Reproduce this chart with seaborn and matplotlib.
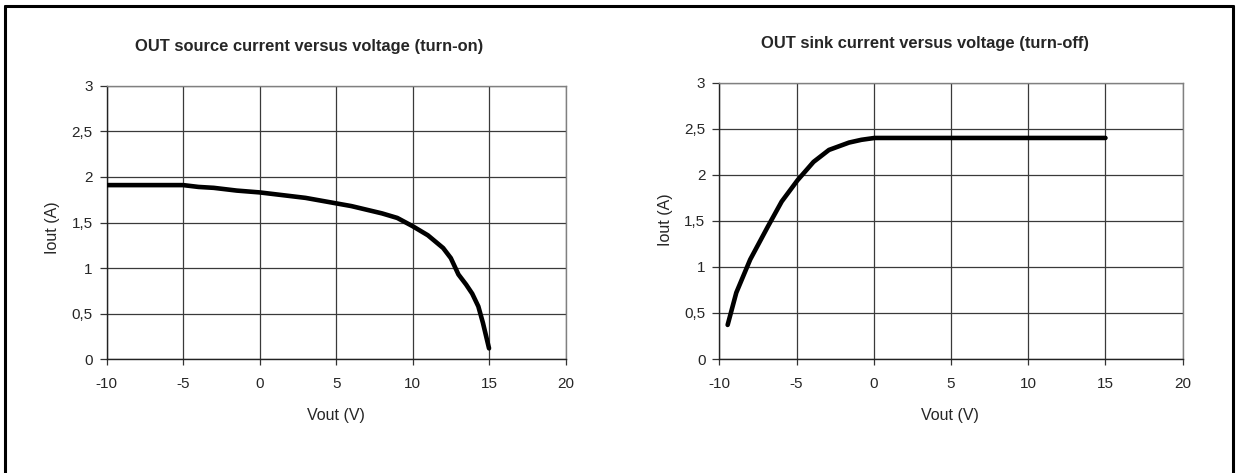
import numpy as np
import pandas as pd
import seaborn as sns
import matplotlib.pyplot as plt
from matplotlib.lines import Line2D

# source current (turn-on)
vout_on = [-10, -5, -4, -3, -2, -1.5, 0, 1, 2, 3, 4, 5, 6, 7, 8, 9, 10, 11, 12, 12.5, 13, 13.5, 13.9, 14.3, 14.6, 15]
iout_on = [1.91, 1.91, 1.89, 1.88, 1.86, 1.85, 1.83, 1.81, 1.79, 1.77, 1.74, 1.71, 1.68, 1.64, 1.60, 1.55, 1.46, 1.36, 1.22, 1.11, 0.93, 0.82, 0.72, 0.58, 0.40, 0.12]

# sink current (turn-off)
vout_off = [-9.46, -8.9, -8.0, -6.85, -5.96, -4.94, -3.9, -2.9, -1.6, -0.8, 0.05, 5, 10, 15]
iout_off = [0.37, 0.72, 1.08, 1.44, 1.71, 1.94, 2.14, 2.27, 2.35, 2.38, 2.40, 2.40, 2.40, 2.40]

x_ticks = [-10, -5, 0, 5, 10, 15, 20]
y_ticks = [0, 0.5, 1, 1.5, 2, 2.5, 3]
y_labels = ['0', '0,5', '1', '1,5', '2', '2,5', '3']

titles = ['OUT source current versus voltage (turn-on)',
          'OUT sink current versus voltage (turn-off)']

sns.set_style('white')
plt.rcParams['font.family'] = ['Liberation Sans', 'DejaVu Sans']

fig = plt.figure(figsize=(12.39, 4.73), dpi=100)
W, H = 1239, 473

def px_axes(x0, x1, ytop, ybot):
    return fig.add_axes([x0 / W, 1 - ybot / H, (x1 - x0) / W, (ybot - ytop) / H])

ax1 = px_axes(106.7, 565.5, 85.7, 359.3)
ax2 = px_axes(719.3, 1182.7, 82.7, 359.0)

df_on = pd.DataFrame({'Vout': vout_on, 'Iout': iout_on})
df_off = pd.DataFrame({'Vout': vout_off, 'Iout': iout_off})

for ax, df in [(ax1, df_on), (ax2, df_off)]:
    sns.lineplot(data=df, x='Vout', y='Iout', ax=ax, color='black', linewidth=3.3,
                 sort=False, zorder=5)
    ax.set_xlim(-10, 20)
    ax.set_ylim(0, 3)
    ax.set_xticks(x_ticks)
    ax.set_xticklabels([str(t) for t in x_ticks])
    ax.set_yticks(y_ticks)
    ax.set_yticklabels(y_labels)
    ax.grid(True, color='#3a3a3a', linewidth=0.9)
    for s in ['top', 'right']:
        ax.spines[s].set_color('#808080')
        ax.spines[s].set_linewidth(1.0)
    for s in ['left', 'bottom']:
        ax.spines[s].set_color('#222222')
        ax.spines[s].set_linewidth(1.0)
    ax.tick_params(axis='y', direction='out', length=5, width=0.9, color='#333333',
                   labelsize=11, pad=5, left=True)
    ax.tick_params(axis='x', direction='out', length=4, width=0.9, color='#333333',
                   labelsize=11, pad=9, bottom=True)
    ax.set_xlabel('')
    ax.set_ylabel('')

fig.text(309 / W, 1 - 46.7 / H, titles[0], ha='center', va='center', fontsize=11.9, fontweight='bold')
fig.text(925 / W, 1 - 43.3 / H, titles[1], ha='center', va='center', fontsize=11.9, fontweight='bold')
fig.text(336 / W, 1 - 415 / H, 'Vout (V)', ha='center', va='center', fontsize=11.5)
fig.text(950 / W, 1 - 415 / H, 'Vout (V)', ha='center', va='center', fontsize=11.5)
fig.text(53 / W, 1 - 228 / H, 'Iout (A)', ha='center', va='center', fontsize=11.5, rotation=90)
fig.text(665.5 / W, 1 - 220 / H, 'Iout (A)', ha='center', va='center', fontsize=11.5, rotation=90)

# outer frame (top, left, right)
frame = dict(color='black', linewidth=2.2, transform=fig.transFigure)
fig.add_artist(Line2D([5 / W, 1233 / W], [1 - 5.7 / H, 1 - 5.7 / H], **frame))
fig.add_artist(Line2D([5 / W, 5 / W], [1 - 5.7 / H, 0], **frame))
fig.add_artist(Line2D([1233 / W, 1233 / W], [1 - 5.7 / H, 0], **frame))

fig.savefig('out.png', dpi=100)
